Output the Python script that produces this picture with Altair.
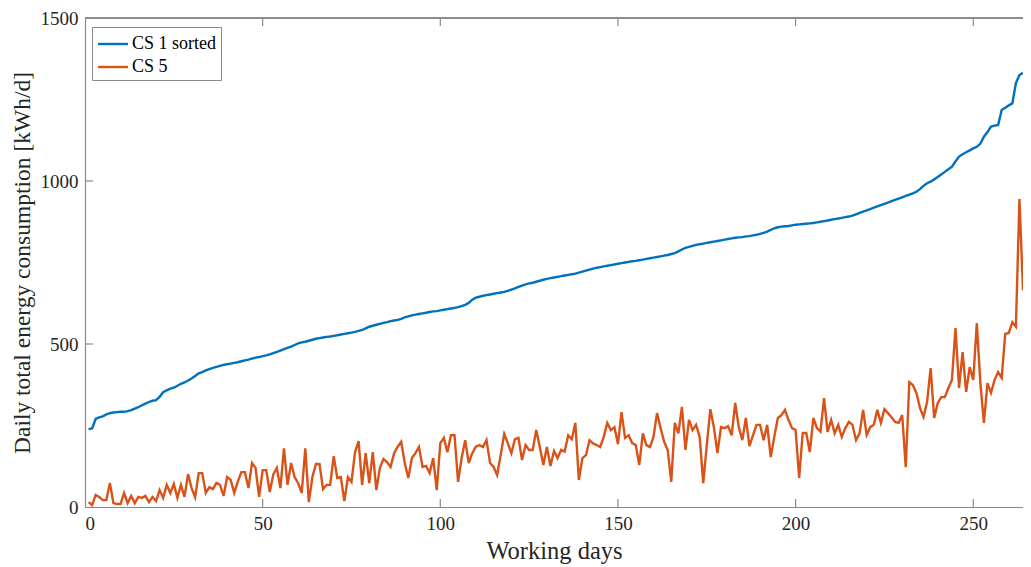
import altair as alt
import pandas as pd

# ---------------- data ----------------
series_names = ["CS 1 sorted", "CS 5"]
series_colors = ["#0072BD", "#D95319"]
x_ticks = [0, 50, 100, 150, 200, 250]
y_ticks = [0, 500, 1000, 1500]
x_inner_ticks = [50, 100, 150, 200, 250]
y_inner_ticks = [500, 1000]

days = list(range(1, 265))

cs1_sorted = [
    239, 241, 270, 275, 278, 284, 288, 290, 291, 292,
    292, 294, 297, 302, 306, 312, 317, 322, 326, 328,
    338, 352, 358, 363, 366, 372, 378, 382, 388, 394,
    402, 410, 414, 419, 423, 427, 430, 433, 436, 438,
    440, 442, 444, 447, 450, 452, 455, 458, 460, 463,
    465, 468, 472, 476, 480, 484, 488, 492, 497, 502,
    505, 507, 510, 513, 516, 518, 520, 522, 523, 525,
    527, 529, 531, 533, 535, 537, 540, 543, 548, 553,
    556, 559, 562, 565, 567, 570, 572, 574, 577, 582,
    585, 588, 590, 592, 594, 596, 598, 600, 601, 603,
    605, 607, 609, 611, 613, 616, 620, 626, 636, 642,
    645, 648, 650, 652, 654, 656, 658, 660, 663, 667,
    671, 675, 679, 683, 686, 688, 691, 694, 697, 700,
    702, 704, 706, 708, 710, 712, 714, 716, 719, 722,
    725, 728, 731, 734, 736, 738, 740, 742, 744, 746,
    748, 750, 752, 754, 755, 757, 759, 761, 763, 765,
    767, 769, 771, 773, 776, 779, 784, 790, 795, 798,
    801, 804, 806, 808, 810, 812, 814, 816, 818, 820,
    822, 824, 826, 827, 828, 830, 831, 833, 835, 838,
    841, 845, 850, 855, 858, 860, 861, 862, 864, 866,
    867, 868, 869, 870, 871, 873, 875, 877, 879, 881,
    883, 885, 887, 889, 891, 894, 898, 902, 906, 910,
    914, 918, 922, 926, 930, 934, 938, 942, 946, 950,
    954, 958, 962, 967, 975, 985, 993, 998, 1005, 1012,
    1020, 1028, 1036, 1044, 1060, 1075, 1082, 1088, 1094, 1100,
    1105, 1115, 1136, 1150, 1167, 1170, 1172, 1218, 1225, 1232,
    1238, 1300, 1325, 1332,
]

cs5 = [
    15, 6, 37, 31, 21, 21, 74, 12, 9, 9,
    43, 12, 34, 12, 31, 28, 34, 15, 31, 18,
    52, 28, 68, 43, 71, 28, 68, 31, 101, 58,
    30, 104, 104, 43, 61, 55, 74, 68, 34, 92,
    83, 43, 77, 107, 107, 58, 135, 120, 31, 113,
    113, 46, 100, 120, 58, 180, 68, 135, 92, 73,
    43, 180, 15, 92, 132, 132, 55, 68, 68, 156,
    89, 92, 18, 92, 77, 168, 202, 68, 165, 73,
    168, 52, 120, 147, 138, 123, 165, 185, 200, 135,
    89, 150, 165, 184, 123, 126, 104, 150, 52, 196,
    212, 168, 220, 220, 77, 150, 205, 135, 165, 185,
    190, 184, 205, 135, 123, 98, 160, 224, 196, 165,
    208, 212, 144, 190, 175, 175, 236, 184, 129, 184,
    126, 172, 150, 175, 170, 220, 208, 258, 83, 150,
    159, 205, 195, 190, 184, 215, 258, 236, 245, 193,
    291, 212, 220, 196, 190, 129, 226, 190, 184, 215,
    288, 242, 200, 175, 77, 258, 226, 307, 175, 267,
    236, 252, 215, 73, 190, 300, 245, 165, 245, 242,
    248, 220, 319, 245, 205, 273, 187, 220, 252, 252,
    205, 252, 153, 215, 273, 282, 298, 267, 242, 236,
    89, 227, 227, 169, 273, 242, 231, 334, 230, 267,
    226, 252, 215, 242, 261, 252, 205, 226, 298, 221,
    245, 252, 298, 258, 300, 288, 275, 261, 258, 282,
    122, 383, 374, 350, 304, 276, 322, 426, 273, 319,
    337, 337, 365, 390, 549, 365, 475, 353, 429, 390,
    564, 380, 258, 380, 350, 390, 414, 396, 531, 534,
    567, 553, 945, 665,
]

# ---------------- layout ----------------
W, H = 938, 489
FONT = "Liberation Serif"
AXIS_GRAY = "#8a8a8a"
TEXT = "#262626"

df = pd.DataFrame({
    "day": days + days,
    "value": cs1_sorted + cs5,
    "series": [series_names[0]] * len(days) + [series_names[1]] * len(days),
})

x_scale = alt.Scale(domain=[0, 264], nice=False, zero=False)
y_scale = alt.Scale(domain=[0, 1500], nice=False)

lines = alt.Chart(df).mark_line(strokeWidth=2.4, clip=True).encode(
    x=alt.X("day:Q", scale=x_scale,
            axis=alt.Axis(values=x_ticks, format="d", title="Working days", tickSize=0,
                          labelPadding=7, titlePadding=6, grid=False,
                          titleFontSize=24.5,
                          domainColor=AXIS_GRAY, domainWidth=1.2)),
    y=alt.Y("value:Q", scale=y_scale,
            axis=alt.Axis(values=y_ticks, format="d",
                          title="Daily total energy consumption [kWh/d]",
                          tickSize=0, labelPadding=7, titlePadding=6, grid=False,
                          titleFontSize=23.5,
                          domainColor=AXIS_GRAY, domainWidth=1.2)),
    color=alt.Color("series:N",
                    scale=alt.Scale(domain=series_names, range=series_colors),
                    legend=alt.Legend(title=None, orient="none", legendX=7, legendY=9,
                                      symbolType="M-1.3,0H1.3", symbolSize=529,
                                      symbolStrokeWidth=2.4, labelFont=FONT,
                                      labelFontSize=18, labelColor="#000000",
                                      strokeColor=AXIS_GRAY, fillColor="white",
                                      padding=4, rowPadding=1, labelOffset=6,
                                      symbolOffset=4)),
)

# inward ticks (MATLAB style) and the top border
tick_x_df = pd.DataFrame({"t": x_inner_ticks})
tick_y_df = pd.DataFrame({"t": y_inner_ticks})

bottom_ticks = alt.Chart(tick_x_df).mark_rule(color=AXIS_GRAY, strokeWidth=1.2).encode(
    x=alt.X("t:Q", scale=x_scale), y=alt.value(H), y2=alt.value(H - 8))
top_ticks = alt.Chart(tick_x_df).mark_rule(color=AXIS_GRAY, strokeWidth=1.2).encode(
    x=alt.X("t:Q", scale=x_scale), y=alt.value(0), y2=alt.value(8))
left_ticks = alt.Chart(tick_y_df).mark_rule(color=AXIS_GRAY, strokeWidth=1.2).encode(
    y=alt.Y("t:Q", scale=y_scale), x=alt.value(0), x2=alt.value(8))
top_border = alt.Chart(tick_x_df).mark_rule(color=AXIS_GRAY, strokeWidth=1.2).encode(
    x=alt.value(0), x2=alt.value(W), y=alt.value(0))

chart = alt.layer(lines, bottom_ticks, top_ticks, left_ticks, top_border).properties(
    width=W, height=H,
    autosize=alt.AutoSizeParams(type="none"),
    padding={"left": 77, "top": 10, "right": 0, "bottom": 60},
).configure_view(stroke=None).configure_axis(
    labelFont=FONT, labelFontSize=19, labelColor=TEXT,
    titleFont=FONT, titleColor=TEXT, titleFontWeight="normal",
)

chart.save("out.html", embed_options={"renderer": "svg", "actions": False})
